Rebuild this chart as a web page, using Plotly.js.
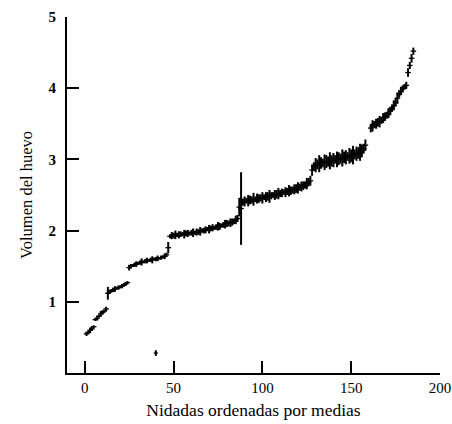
<!DOCTYPE html>
<html>
<head>
<meta charset="utf-8">
<script src="https://cdn.plot.ly/plotly-3.0.1.min.js"></script>
<style>html,body{margin:0;padding:0;background:#fff;}#chart{width:452px;height:424px;}</style>
</head>
<body>
<div id="chart"></div>
<script>
// Clutch rank (sorted by mean)
const nidada = [
  1,2,3,4,5,
  6,7,8,9,10,11,12,
  13,14,15,16,17,18,19,20,21,22,23,24,
  25,26,27,28,29,30,31,32,33,34,35,36,37,38,39,40,41,42,43,44,45,46,
  47,48,49,50,51,52,53,54,55,56,57,58,59,60,61,62,63,64,65,
  66,67,68,69,70,71,72,73,74,75,76,77,78,79,80,81,82,83,84,85,86,87,
  88,
  89,90,91,92,93,94,95,96,97,98,99,100,101,102,103,104,105,106,107,108,
  109,110,111,112,113,114,115,116,117,118,119,120,121,122,123,124,125,126,127,
  128,129,130,131,132,133,134,135,136,137,138,139,140,141,142,143,144,145,146,147,
  148,149,150,151,152,153,154,155,156,157,158,
  161,162,163,164,165,166,167,168,169,170,171,172,173,174,175,176,177,178,179,180,181,
  182,183,184,185
];
// Mean egg volume per clutch
const media = [
  0.55,0.57,0.60,0.62,0.65,
  0.75,0.77,0.80,0.83,0.85,0.87,0.90,
  1.12,1.14,1.15,1.17,1.18,1.19,1.20,1.21,1.22,1.24,1.25,1.27,
  1.48,1.50,1.51,1.52,1.53,1.54,1.55,1.56,1.56,1.57,1.58,1.58,1.59,1.59,1.60,1.60,1.61,1.61,1.62,1.63,1.64,1.66,
  1.76,1.92,1.93,1.93,1.94,1.94,1.94,1.95,1.95,1.95,1.96,1.96,1.96,1.97,1.97,1.97,1.98,1.98,1.99,
  2.00,2.00,2.01,2.02,2.02,2.03,2.04,2.04,2.05,2.06,2.06,2.07,2.08,2.09,2.10,2.10,2.11,2.12,2.13,2.15,2.17,2.33,
  2.31,
  2.40,2.41,2.42,2.42,2.43,2.43,2.44,2.44,2.45,2.45,2.46,2.46,2.47,2.47,2.48,2.48,2.49,2.50,2.50,2.51,
  2.52,2.52,2.53,2.54,2.54,2.55,2.56,2.56,2.57,2.58,2.59,2.60,2.61,2.62,2.63,2.64,2.66,2.68,2.70,
  2.85,2.90,2.92,2.93,2.94,2.95,2.95,2.96,2.97,2.97,2.98,2.98,2.99,3.00,3.00,3.01,3.01,3.02,3.03,3.03,
  3.04,3.05,3.05,3.06,3.07,3.08,3.09,3.10,3.12,3.15,3.20,
  3.44,3.47,3.49,3.50,3.52,3.53,3.55,3.58,3.60,3.62,3.65,3.68,3.72,3.76,3.80,3.86,3.92,3.96,3.99,4.02,4.04,
  4.22,4.32,4.42,4.52
];
// Half range of egg volumes within each clutch
const semirango = [
  0.03,0.02,0.04,0.03,0.02,
  0.02,0.03,0.02,0.04,0.03,0.02,0.03,
  0.09,0.03,0.02,0.03,0.04,0.02,0.03,0.02,0.03,0.02,0.03,0.02,
  0.04,0.03,0.02,0.03,0.04,0.02,0.03,0.05,0.02,0.03,0.04,0.02,0.03,0.05,0.02,0.03,0.04,0.02,0.03,0.02,0.04,0.03,
  0.08,0.03,0.05,0.04,0.06,0.03,0.05,0.04,0.03,0.06,0.04,0.05,0.03,0.04,0.06,0.03,0.05,0.04,0.06,
  0.03,0.04,0.05,0.03,0.06,0.04,0.05,0.03,0.04,0.06,0.05,0.03,0.04,0.06,0.05,0.04,0.06,0.05,0.04,0.06,0.05,0.13,
  0.51,
  0.05,0.07,0.04,0.08,0.06,0.05,0.09,0.04,0.07,0.06,0.05,0.08,0.04,0.07,0.06,0.09,0.05,0.04,0.07,0.06,
  0.08,0.05,0.06,0.04,0.07,0.05,0.08,0.06,0.05,0.07,0.06,0.08,0.05,0.07,0.06,0.05,0.08,0.06,0.07,
  0.08,0.06,0.10,0.07,0.12,0.08,0.06,0.11,0.09,0.07,0.12,0.08,0.10,0.06,0.11,0.09,0.07,0.12,0.08,0.10,
  0.06,0.11,0.09,0.13,0.07,0.10,0.08,0.12,0.09,0.07,0.08,
  0.06,0.08,0.05,0.07,0.06,0.08,0.05,0.07,0.06,0.05,0.07,0.06,0.05,0.07,0.06,0.08,0.05,0.06,0.05,0.04,0.05,
  0.06,0.05,0.06,0.05
];
// Isolated low value
const atipicoX = [40];
const atipicoY = [0.28];
const atipicoRango = [0.04];

const xTicks = [0, 50, 100, 150, 200];
const yTicks = [1, 2, 3, 4, 5];

const serif = 'Liberation Serif, Times New Roman, serif';

const traces = [
  {
    x: nidada, y: media, type: 'scatter', mode: 'markers',
    marker: {symbol: 'line-ew', size: 4, color: 'black', line: {color: 'black', width: 1.3}},
    error_y: {type: 'data', array: semirango, visible: true, thickness: 2, width: 0, color: 'black'},
    hoverinfo: 'x+y', showlegend: false
  },
  {
    x: atipicoX, y: atipicoY, type: 'scatter', mode: 'markers',
    marker: {symbol: 'line-ew', size: 3, color: 'black', line: {color: 'black', width: 1.3}},
    error_y: {type: 'data', array: atipicoRango, visible: true, thickness: 2, width: 0, color: 'black'},
    showlegend: false
  }
];

const layout = {
  width: 452, height: 424,
  margin: {l: 67, r: 12, t: 17, b: 51},
  paper_bgcolor: '#ffffff', plot_bgcolor: '#ffffff',
  font: {family: serif, color: '#000'},
  showlegend: false,
  xaxis: {
    range: [-10, 200], tickvals: xTicks, ticktext: xTicks.map(String),
    showline: true, linecolor: '#000', linewidth: 2,
    ticks: 'inside', ticklen: 12, tickwidth: 2, tickcolor: '#000',
    showgrid: false, zeroline: false,
    tickfont: {family: serif, size: 15, color: '#000'},
    title: {text: 'Nidadas ordenadas por medias', font: {family: serif, size: 17.5, color: '#000'}, standoff: 9}
  },
  yaxis: {
    range: [0, 5], tickvals: yTicks, ticktext: yTicks.map(String),
    showline: true, linecolor: '#000', linewidth: 2,
    ticks: 'inside', ticklen: 12, tickwidth: 2, tickcolor: '#000',
    showgrid: false, zeroline: false,
    tickfont: {family: serif, size: 15, color: '#000', weight: 'bold'},
    ticklabelstandoff: 6,
    title: {text: 'Volumen del huevo', font: {family: serif, size: 16.5, color: '#000'}, standoff: 12}
  }
};

Plotly.newPlot('chart', traces, layout, {displayModeBar: false, staticPlot: true});
</script>
</body>
</html>
